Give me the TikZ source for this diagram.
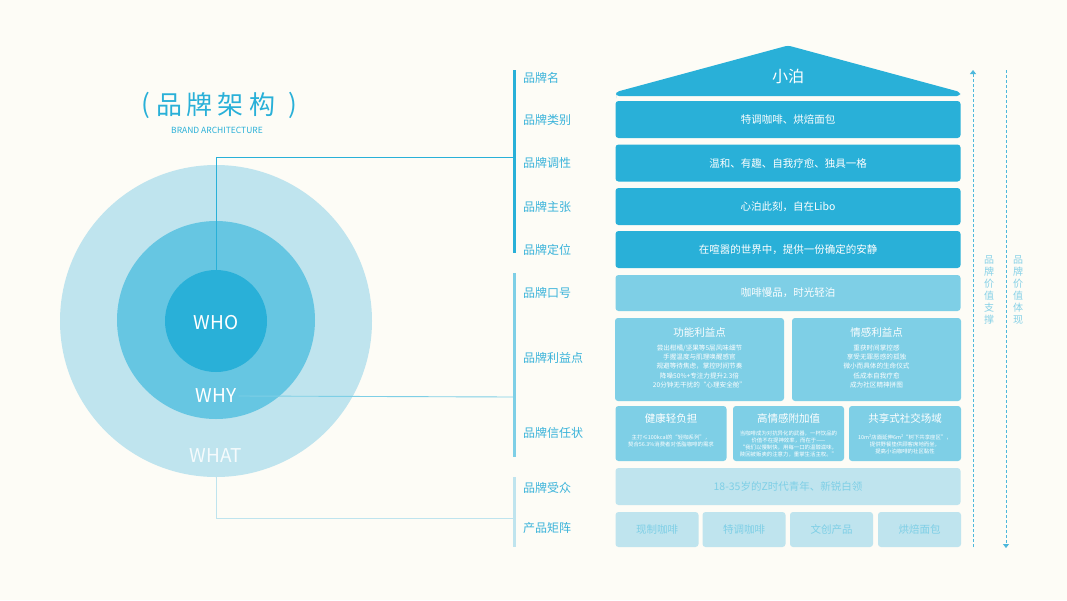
\documentclass[tikz,border=0pt]{standalone}
\usepackage{fontspec}
\setmainfont{Noto Sans CJK SC}
\usetikzlibrary{arrows.meta}
\definecolor{bg}{HTML}{FDFCF6}
\definecolor{dk}{HTML}{29B0D8}
\definecolor{md}{HTML}{7ECFE6}
\definecolor{mdc}{HTML}{66C6E2}
\definecolor{lt}{HTML}{BFE4EE}
\definecolor{lbl}{HTML}{3AB3DA}
\definecolor{vt}{HTML}{86D1E7}
\definecolor{dsh}{HTML}{4DB8DC}
\tikzset{
  box/.style={rounded corners=3pt, inner sep=0pt, text=white, align=center},
  lab/.style={anchor=west, text=lbl, font=\fontsize{12}{14}\selectfont, inner sep=0pt},
  bar/.style={line width=3pt},
  conn/.style={line width=0.9pt},
  ring/.style={circle, inner sep=0pt},
  small/.style={font=\fontsize{6.6}{9.3}\selectfont},
  tiny/.style={font=\fontsize{5.4}{7}\selectfont},
  vtext/.style={text=vt, align=center, font=\fontsize{10}{12}\selectfont, inner sep=0pt},
  darrow/.style={dashed, dash pattern=on 3pt off 2pt, line width=0.8pt, color=dsh},
}
\begin{document}
\begin{tikzpicture}[x=1pt,y=-1pt]
\fill[bg] (0,0) rectangle (1067,600);
\useasboundingbox (0,0) rectangle (1067,600);

% title
\node[text=dk, font=\fontsize{26}{28}\selectfont, inner sep=0pt] (tp1) at (146,105) {(};
\node[text=dk, font=\fontsize{26}{28}\selectfont, inner sep=0pt] (tc1) at (169,105) {品};
\node[text=dk, font=\fontsize{26}{28}\selectfont, inner sep=0pt] (tc2) at (199,105) {牌};
\node[text=dk, font=\fontsize{26}{28}\selectfont, inner sep=0pt] (tc3) at (230,105) {架};
\node[text=dk, font=\fontsize{26}{28}\selectfont, inner sep=0pt] (tc4) at (262,105) {构};
\node[text=dk, font=\fontsize{26}{28}\selectfont, inner sep=0pt] (tp2) at (293,105) {)};
\node[text=dk, font=\fontsize{8.5}{10}\selectfont, inner sep=0pt] (tsub) at (217,130) {BRAND ARCHITECTURE};

% circles
\node[ring, fill=lt, minimum size=312pt] (outer) at (216,321) {};
\node[ring, fill=mdc, minimum size=198pt] (middle) at (216,320) {};
\node[ring, fill=dk, minimum size=102pt] (inner) at (216,321) {};
\node[text=white, font=\fontsize{19}{20}\selectfont, inner sep=1pt] (who) at (216,323) {WHO};
\node[text=white, font=\fontsize{19}{20}\selectfont, inner sep=2pt] (why) at (216,396) {WHY};
\node[text=white, text opacity=0.85, font=\fontsize{19}{20}\selectfont, inner sep=2pt] (what) at (216,456) {WHAT};

% bars
\coordinate (b1t) at (514,70); \coordinate (b1b) at (514,253);
\coordinate (b2t) at (514,273); \coordinate (b2b) at (514,457);
\coordinate (b3t) at (514,477); \coordinate (b3b) at (514,547);
\draw[bar, dk] (b1t) -- (b1b);
\draw[bar, md] (b2t) -- (b2b);
\draw[bar, lt] (b3t) -- (b3b);
\coordinate (b1) at (513,157);
\coordinate (b2) at (513,397);
\coordinate (b3) at (513,518);

% connectors
\draw[conn, dk] (216,270) |- (b1);
\draw[conn, md] (why.east) -- (b2);
\draw[conn, lt] (what.south) |- (b3);

% labels
\node[lab] (l1) at (523,78) {品牌名};
\node[lab] (l2) at (523,120) {品牌类别};
\node[lab] (l3) at (523,163) {品牌调性};
\node[lab] (l4) at (523,207) {品牌主张};
\node[lab] (l5) at (523,250) {品牌定位};
\node[lab] (l6) at (523,293) {品牌口号};
\node[lab] (l7) at (523,358) {品牌利益点};
\node[lab] (l8) at (523,433) {品牌信任状};
\node[lab] (l9) at (523,488) {品牌受众};
\node[lab] (l10) at (523,528) {产品矩阵};

% roof
\fill[dk] (616,95) [rounded corners=3pt] -- (616,92) -- (788,45.5) -- (960,92) -- (960,96) -- (616,96) -- cycle;
\node[text=white, font=\fontsize{16}{18}\selectfont, inner sep=0pt] (roof) at (788,76) {小泊};

% rows
\node[box, fill=dk, minimum width=345pt, minimum height=37pt, font=\fontsize{10.5}{12}\selectfont] (r1) at (788,119.5) {特调咖啡、烘焙面包};
\node[box, fill=dk, minimum width=345pt, minimum height=37pt, font=\fontsize{10.5}{12}\selectfont] (r2) at (788,163) {温和、有趣、自我疗愈、独具一格};
\node[box, fill=dk, minimum width=345pt, minimum height=37pt, font=\fontsize{10.5}{12}\selectfont] (r3) at (788,206.5) {心泊此刻，自在Libo};
\node[box, fill=dk, minimum width=345pt, minimum height=37pt, font=\fontsize{10.5}{12}\selectfont] (r4) at (788,249.5) {在喧嚣的世界中，提供一份确定的安静};
\node[box, fill=md, minimum width=345pt, minimum height=36pt, font=\fontsize{10.5}{12}\selectfont] (r5) at (788,293) {咖啡慢品，时光轻泊};

% benefit boxes
\node[box, fill=md, minimum width=169pt, minimum height=83pt] (bf1) at (699.5,359.5) {};
\node[box, fill=md, minimum width=169pt, minimum height=83pt] (bf2) at (876.5,359.5) {};
\node[text=white, font=\fontsize{10.5}{12}\selectfont, inner sep=0pt] (bf1t) at (699.5,332) {功能利益点};
\node[text=white, font=\fontsize{10.5}{12}\selectfont, inner sep=0pt] (bf2t) at (876.5,332) {情感利益点};
\node[text=white, small, align=center, inner sep=0pt, anchor=north] (bf1b) at (699.5,344.5) {尝出柑橘/坚果等5层风味细节\\手握温度与肌理唤醒感官\\规避等待焦虑，掌控时间节奏\\降噪50\%+专注力提升2.3倍\\20分钟无干扰的“心理安全舱”};
\node[text=white, small, align=center, inner sep=0pt, anchor=north] (bf2b) at (876.5,344.5) {重获时间掌控感\\享受无罪恶感的孤独\\微小而具体的生命仪式\\低成本自我疗愈\\成为社区精神拼图};

% trust boxes
\node[box, fill=md, minimum width=111pt, minimum height=55pt] (tr1) at (671,433.5) {};
\node[box, fill=md, minimum width=111pt, minimum height=55pt] (tr2) at (788.5,433.5) {};
\node[box, fill=md, minimum width=112pt, minimum height=55pt] (tr3) at (905,433.5) {};
\node[text=white, font=\fontsize{10.5}{12}\selectfont, inner sep=0pt] (tr1t) at (671,418) {健康轻负担};
\node[text=white, font=\fontsize{10.5}{12}\selectfont, inner sep=0pt] (tr2t) at (788.5,418) {高情感附加值};
\node[text=white, font=\fontsize{10.5}{12}\selectfont, inner sep=0pt] (tr3t) at (905,418) {共享式社交场域};
\node[text=white, tiny, align=center, inner sep=0pt] (tr1b) at (671,440.5) {主打≤100kcal的“轻咖系列”，\\契合56.3\%消费者对低脂咖啡的需求};
\node[text=white, tiny, align=center, inner sep=0pt] (tr2b) at (788.5,443.5) {当咖啡成为对抗异化的武器，一杯饮品的\\价值不在提神效率，而在于——\\“我们以慢制快，用每一口的温醇滋味，\\赎回被贩卖的注意力，重掌生活主权。”};
\node[text=white, tiny, align=center, inner sep=0pt] (tr3b) at (905,444.5) {10m²店面延伸6m²“树下共享座区”，\\提供野餐垫供顾客席地而坐，\\提高小泊咖啡的社区黏性};

% audience
\node[box, fill=lt, text=md, minimum width=345pt, minimum height=37pt, font=\fontsize{10.5}{12}\selectfont] (au) at (788,486.5) {18-35岁的Z时代青年、新锐白领};

% products
\node[box, fill=lt, text=md, minimum width=83pt, minimum height=35pt, font=\fontsize{10.5}{12}\selectfont] (p1) at (657,529.5) {现制咖啡};
\node[box, fill=lt, text=md, minimum width=83pt, minimum height=35pt, font=\fontsize{10.5}{12}\selectfont] (p2) at (744,529.5) {特调咖啡};
\node[box, fill=lt, text=md, minimum width=83pt, minimum height=35pt, font=\fontsize{10.5}{12}\selectfont] (p3) at (831.5,529.5) {文创产品};
\node[box, fill=lt, text=md, minimum width=83pt, minimum height=35pt, font=\fontsize{10.5}{12}\selectfont] (p4) at (919.5,529.5) {烘焙面包};

% right dashed arrows
\coordinate (s1b) at (973,547); \coordinate (s1t) at (973,70);
\coordinate (s2t) at (1006,70); \coordinate (s2b) at (1006,548);
\draw[darrow, -{Triangle[width=6pt,length=4pt]}] (s1b) -- (s1t);
\draw[darrow, -{Triangle[width=6pt,length=4pt]}] (s2t) -- (s2b);
\node[vtext] (v1) at (989,290) {品\\牌\\价\\值\\支\\撑};
\node[vtext] (v2) at (1018,290) {品\\牌\\价\\值\\体\\现};
\end{tikzpicture}
\end{document}
